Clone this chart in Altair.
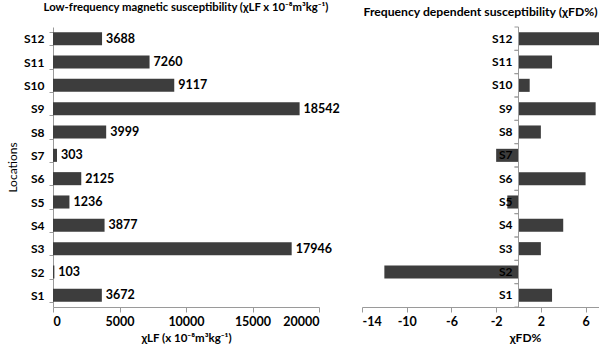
import altair as alt
import pandas as pd

locations = ["S1", "S2", "S3", "S4", "S5", "S6", "S7", "S8", "S9", "S10", "S11", "S12"]
chi_lf = [3672, 103, 17946, 3877, 1236, 2125, 303, 3999, 18542, 9117, 7260, 3688]
chi_fd = [3, -12, 2, 4, -1, 6, -2, 2, 6.9, 1, 3, 7.2]

lf_ticks = [0, 5000, 10000, 15000, 20000]
fd_ticks = [-14, -10, -6, -2, 2, 6]

df = pd.DataFrame({"loc": locations, "lf": chi_lf, "fd": chi_fd})
order = locations[::-1]

FONT = "Lato"
BAR = "#3d3d3d"
AX = "#9a9a9a"
LBL = 12.5
H = 280
STEP = H / 12.0

yscale = alt.Scale(paddingInner=0.44, paddingOuter=0.22)

left_y = alt.Y("loc:N", sort=order, scale=yscale,
               axis=alt.Axis(title="Locations", titleFont=FONT, titleFontWeight="normal",
                             titleFontSize=12, titlePadding=4, labelFont=FONT,
                             labelFontWeight="bold", labelFontSize=12, labelColor="#000",
                             labelPadding=5, tickSize=4, tickBand="extent", grid=False,
                             domainColor=AX, tickColor=AX))
left_x = alt.X("lf:Q", scale=alt.Scale(domain=[0, 20000], nice=False),
               axis=alt.Axis(title="χLF (x 10⁻⁸m³kg⁻¹)", values=lf_ticks, grid=False,
                             titleFont=FONT, titleFontWeight="bold", titleFontSize=11.5,
                             titleColor="#000", titlePadding=5, labelFont=FONT,
                             labelFontWeight="bold", labelFontSize=LBL, labelColor="#000",
                             labelPadding=3, tickSize=5, domainColor=AX, tickColor=AX,
                             format="d"))

left_base = alt.Chart(df).encode(y=left_y, x=left_x)
left = alt.layer(
    left_base.mark_bar(color=BAR),
    left_base.mark_text(align="left", dx=4, font=FONT, fontWeight="bold", fontSize=LBL,
                        color="#000").encode(text="lf:Q"),
).properties(width=266, height=H,
             title=alt.TitleParams("Low-frequency magnetic susceptibility (χLF x 10⁻⁸m³kg⁻¹)",
                                   font=FONT, fontSize=11.3, fontWeight="bold", color="#000",
                                   offset=8))

right_y = alt.Y("loc:N", sort=order, scale=yscale, axis=None)
right_x = alt.X("fd:Q", scale=alt.Scale(domain=[-14, 7.2], nice=False, zero=False),
                axis=alt.Axis(title="χFD%", values=fd_ticks, grid=False,
                              titleFont=FONT, titleFontWeight="bold", titleFontSize=12,
                              titleColor="#000", titlePadding=5, titleX=163,
                              titleAlign="center", labelFont=FONT,
                              labelFontWeight="bold", labelFontSize=LBL, labelColor="#000",
                              labelExpr="replace(datum.label, '−', '-')",
                              labelPadding=3, tickSize=5, domainColor=AX, tickColor=AX))
right_bars = alt.Chart(df).mark_bar(color=BAR).encode(y=right_y, x=right_x)
zero_line = alt.Chart(df).mark_rule(color=AX, strokeWidth=1).encode(x=alt.datum(0))
ticks_below = alt.Chart(df).mark_rule(color=AX, yOffset=STEP / 2).encode(
    y=right_y, x=alt.datum(-0.36), x2=alt.datum(0))
ticks_above = alt.Chart(df).mark_rule(color=AX, yOffset=-STEP / 2).encode(
    y=right_y, x=alt.datum(-0.36), x2=alt.datum(0))
right_labels = alt.Chart(df).mark_text(align="right", dx=-6, font=FONT, fontWeight="bold",
                                       fontSize=12, color="#000").encode(
    y=right_y, x=alt.datum(0), text="loc:N")
right = alt.layer(right_bars, zero_line, ticks_below, ticks_above, right_labels).properties(
    width=237, height=H,
    title=alt.TitleParams("Frequency dependent susceptibility (χFD%)",
                          font=FONT, fontSize=12.2, fontWeight="bold", color="#000",
                          offset=8))

chart = alt.hconcat(left, right, spacing=43, bounds="flush").properties(
    padding={"left": 6, "top": 1, "right": 0, "bottom": 0},
    background="white",
).configure_view(strokeWidth=0, stroke=None)

chart.save("out.html", embed_options={"renderer": "svg", "actions": False})
